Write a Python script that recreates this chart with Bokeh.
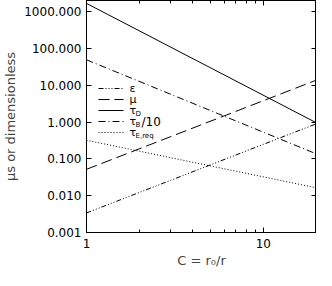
from bokeh.plotting import figure
from bokeh.models import LogAxis, FixedTicker, PrintfTickFormatter, Label, Arrow, Range1d, CustomJSTickFormatter
from bokeh.embed import file_html
from bokeh.resources import INLINE

# ---- data ----
C = [1.0, 20.0]
eps = [0.0034, 0.90]
mu = [0.052, 13.8]
tau_D = [1667.0, 0.95]
tau_B10 = [49.0, 0.136]
tau_Ereq = [0.32, 0.0163]

y_ticks = [0.001, 0.01, 0.1, 1, 10, 100, 1000]
x_ticks = [1, 10]
x_minor = [2, 3, 4, 5, 6, 7, 8, 9, 20]

W, H = 316, 270
FONT = "DejaVu Sans"

p = figure(width=W, height=H, x_axis_type="log", y_axis_type="log",
           x_range=Range1d(1, 20), y_range=Range1d(0.001, 2000),
           output_backend="svg", toolbar_location=None,
           min_border_left=0, min_border_right=0, min_border_top=0, min_border_bottom=0)
p.grid.visible = False
p.outline_line_color = "black"
p.outline_line_alpha = 1.0
p.background_fill_color = "white"
p.border_fill_color = "white"

def style_axis(ax, ticker, label_size="12px"):
    ax.ticker = ticker
    ax.major_tick_in = 5
    ax.major_tick_out = 0
    ax.minor_tick_in = 3
    ax.minor_tick_out = 0
    ax.axis_line_color = "black"
    ax.major_tick_line_color = "black"
    ax.minor_tick_line_color = "black"
    ax.major_label_text_font = FONT
    ax.major_label_text_font_size = label_size
    ax.major_label_text_color = "black"

xt = FixedTicker(ticks=x_ticks, minor_ticks=x_minor)
yt = FixedTicker(ticks=y_ticks, minor_ticks=[])

style_axis(p.xaxis[0], xt)
p.xaxis[0].formatter = PrintfTickFormatter(format="%d")
p.xaxis[0].major_label_standoff = 6
p.xaxis[0].axis_label = "C = r₀/r"
p.xaxis[0].axis_label_text_font = FONT
p.xaxis[0].axis_label_text_font_size = "13px"
p.xaxis[0].axis_label_text_font_style = "normal"
p.xaxis[0].axis_label_standoff = 2

style_axis(p.yaxis[0], yt)
p.yaxis[0].formatter = PrintfTickFormatter(format="%.3f")
p.yaxis[0].major_label_standoff = 5
p.yaxis[0].axis_label = "µs or dimensionless"
p.yaxis[0].axis_label_text_font = FONT
p.yaxis[0].axis_label_text_font_size = "13px"
p.yaxis[0].axis_label_text_font_style = "normal"
p.yaxis[0].axis_label_standoff = 3

blank = CustomJSTickFormatter(code="return ''")
top = LogAxis(formatter=blank, major_label_standoff=0)
style_axis(top, FixedTicker(ticks=x_ticks, minor_ticks=x_minor), "1px")
right = LogAxis(formatter=blank, major_label_standoff=0)
style_axis(right, FixedTicker(ticks=y_ticks, minor_ticks=[]), "1px")
p.add_layout(top, "above")
p.add_layout(right, "right")

series = [
    (eps, "5 2 1 2 1 2 1 2"),
    (mu, "11 5"),
    (tau_D, "solid"),
    (tau_B10, "7 3 1 3"),
    (tau_Ereq, "1 2"),
]
for ys, dash in series:
    p.line(C, ys, line_color="black", line_width=1, line_dash=dash)

# ---- manual legend (screen units relative to the frame; y from frame bottom) ----
FH = 231          # approximate frame height in pixels
rows = [
    ("ε", "", ""),
    ("μ", "", ""),
    ("τ", "D", ""),
    ("τ", "B", "/10"),
    ("τ", "E,req", ""),
]
row_top, row_dy = 87, 11
x0, x1, xt0 = 12, 37, 43
for i, ((sym, sub, tail), (_, dash)) in enumerate(zip(rows, series)):
    yy = FH - (row_top + i * row_dy)
    p.add_layout(Arrow(end=None, x_start=x0, y_start=yy, x_end=x1, y_end=yy,
                       start_units="screen", end_units="screen",
                       line_color="black", line_width=1, line_dash=dash))
    p.add_layout(Label(x=xt0, y=yy, x_units="screen", y_units="screen", text=sym,
                       text_font=FONT, text_font_size="11px", text_baseline="middle",
                       text_align="left", text_color="black"))
    if sub:
        p.add_layout(Label(x=xt0 + 6, y=yy - 3, x_units="screen", y_units="screen", text=sub,
                           text_font=FONT, text_font_size="7px", text_baseline="middle",
                           text_align="left", text_color="black"))
    if tail:
        p.add_layout(Label(x=xt0 + 12, y=yy, x_units="screen", y_units="screen", text=tail,
                           text_font=FONT, text_font_size="12px", text_baseline="middle",
                           text_align="left", text_color="black"))

open("out.html", "w").write(file_html(p, INLINE))
